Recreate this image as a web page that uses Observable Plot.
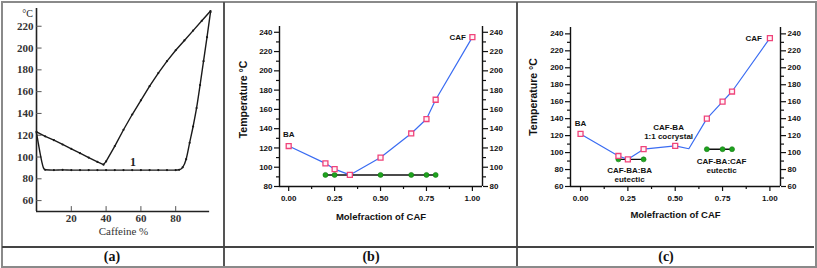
<!DOCTYPE html>
<html>
<head>
<meta charset="utf-8">
<script src="https://cdn.jsdelivr.net/npm/d3@7"></script>
<script src="https://cdn.jsdelivr.net/npm/@observablehq/plot@0.6"></script>
<style>
html,body{margin:0;padding:0;background:#fff;}
#wrap{position:relative;width:817px;height:268px;background:#fff;overflow:hidden;}
.abs{position:absolute;}
.lab{position:absolute;font-family:"Liberation Serif",serif;font-weight:bold;font-size:14px;transform:translate(-50%,-50%);color:#111;}
#pb svg text, #pc svg text {font-weight:700;}
#pa svg g[aria-label="y-axis tick label"] text, #pa svg g[aria-label="x-axis tick label"] text {font-weight:700;}
</style>
</head>
<body>
<div id="wrap">
  <div class="abs" style="left:1px;top:1px;width:812px;height:263px;border:2px solid #8a8a8a;"></div>
  <div class="abs" style="left:223px;top:2px;width:1.5px;height:264px;background:#555;"></div>
  <div class="abs" style="left:516px;top:2px;width:1.5px;height:264px;background:#555;"></div>
  <div class="abs" style="left:2px;top:246px;width:812px;height:1.5px;background:#444;"></div>
  <div id="pa" class="abs" style="left:4px;top:4px;"></div>
  <div id="pb" class="abs" style="left:226px;top:4px;"></div>
  <div id="pc" class="abs" style="left:519px;top:4px;"></div>
  <div class="lab" style="left:112px;top:257px;">(a)</div>
  <div class="lab" style="left:371px;top:257px;">(b)</div>
  <div class="lab" style="left:666px;top:257px;">(c)</div>
</div>
<script>
// ---------- Panel (a): scanned phase diagram ----------
const aLiqX = [0,5,10,15,20,25,30,35,38.5,40,45,50,55,60,65,70,75,80,85,90,95,100];
const aLiqY = [123,119,115.5,111.5,107.5,103.5,99.5,95.5,93,96,110,125,139,152,165,177,188,198,207,216,225,234];
const aSolX = [0,1,2,3,4,5,10,15,20,25,30,35,40,45,50,55,60,65,70,75,80,82,84,86,88,90,92,94,96,98,100];
const aSolY = [122,113,104,96,90,88.3,88,88.2,88,88,88,88,88,88,88,88,88,88,88,88,88,88.3,90.5,98,113,128,145,166,188,210,233];
const aYTicks = [60,80,100,120,140,160,180,200,220];
const aXTicks = [20,40,60,80];

// ---------- Panel (b) ----------
const bX = [0,0.2,0.25,0.333,0.5,0.667,0.75,0.8,1.0];
const bY = [122,104,98,92,110,135,150,170,235];
const bEutX = [0.2,0.25,0.333,0.5,0.667,0.75,0.8];
const bEutY = [92,92,92,92,92,92,92];

// ---------- Panel (c) ----------
const cX = [0,0.2,0.25,0.333,0.5,0.667,0.75,0.8,1.0];
const cY = [122,96,92,104,108,140,160,172,235];
const cLineX = [0,0.2,0.25,0.333,0.5,0.572,0.667,0.75,0.8,1.0];
const cLineY = [122,96,92,104,108,104.5,140,160,172,235];
const cEut1X = [0.2,0.333];
const cEut1Y = [92,92];
const cEut2X = [0.667,0.75,0.8];
const cEut2Y = [104,104,104];

const xMajor = [0,0.25,0.5,0.75,1];
const xMinor = [0.125,0.375,0.625,0.875];

const zip = (xs, ys) => xs.map((x, i) => ({x, y: ys[i]}));

// ---------- draw (a) ----------
{
  const liq = zip(aLiqX, aLiqY), sol = zip(aSolX, aSolY);
  const chart = Plot.plot({
    width: 218, height: 240,
    marginLeft: 32, marginRight: 12, marginTop: 4, marginBottom: 33,
    x: {domain: [0, 100]},
    y: {domain: [50, 236.3]},
    style: {fontFamily: "Liberation Serif", color: "#222", background: "transparent"},
    marks: [
      Plot.ruleX([0], {stroke: "#222", strokeWidth: 1.6}),
      Plot.ruleY([50], {x1: 0, x2: 99.5, stroke: "#222", strokeWidth: 1.6}),
      Plot.ruleY(aYTicks, {x1: 0, x2: 3.2, stroke: "#555", strokeWidth: 1}),
      Plot.ruleX(aXTicks, {y1: 50, y2: 54.5, stroke: "#555", strokeWidth: 1}),
      Plot.axisY({ticks: aYTicks, tickSize: 0, tickPadding: 3, label: null, fontSize: 11, fill: "#333"}),
      Plot.axisX({ticks: aXTicks, tickSize: 0, tickPadding: 3, label: null, fontSize: 11, fill: "#333"}),
      Plot.line(liq, {x: "x", y: "y", stroke: "#1a1a1a", strokeWidth: 1.4}),
      Plot.line(sol, {x: "x", y: "y", stroke: "#1a1a1a", strokeWidth: 1.4, curve: "monotone-x"}),
      Plot.dot(liq, {x: "x", y: "y", r: 1.1, fill: "#1a1a1a"}),
      Plot.dot(sol.filter(d => d.x >= 5), {x: "x", y: "y", r: 1.1, fill: "#1a1a1a"}),
      Plot.text(["1"], {x: 55.5, y: 95, fontSize: 12, fontWeight: "bold", fill: "#222"}),
      Plot.text(["°C"], {frameAnchor: "top-left", textAnchor: "middle", dx: -9, dy: 1, fontSize: 10, fill: "#222"}),
      Plot.text(["Caffeine %"], {frameAnchor: "bottom", textAnchor: "middle", dy: 23, fontSize: 11, fill: "#333"})
    ]
  });
  document.getElementById("pa").append(chart);
}

// ---------- helper for (b) and (c) ----------
function panel(opts) {
  const {xDomain, yDomain, yMajor, yMinor, mL, mR, mT, mB, width, marks, yTitleDx, yTitleDy, xTitleDy} = opts;
  const lab = {fontSize: 8, fill: "#111"};
  return Plot.plot({
    width, height: 240,
    marginLeft: mL, marginRight: mR, marginTop: mT, marginBottom: mB,
    x: {domain: xDomain},
    y: {domain: yDomain},
    style: {fontFamily: "Liberation Sans", fontWeight: "bold", background: "transparent", color: "#111"},
    marks: [
      Plot.ruleX([xDomain[0]], {stroke: "#111", strokeWidth: 1.4}),
      Plot.ruleX([xDomain[1]], {stroke: "#111", strokeWidth: 1.4}),
      Plot.ruleY([yDomain[0]], {stroke: "#111", strokeWidth: 1.4}),
      Plot.axisY({anchor: "left", ticks: yMajor, tickSize: 5, tickPadding: 2, label: null, strokeWidth: 1.2, ...lab}),
      Plot.axisY({anchor: "left", ticks: yMinor, tickSize: 3, tickFormat: () => "", label: null, strokeWidth: 1.2}),
      Plot.axisY({anchor: "right", ticks: yMajor, tickSize: 5, tickPadding: 2, label: null, strokeWidth: 1.2, ...lab}),
      Plot.axisY({anchor: "right", ticks: yMinor, tickSize: 3, tickFormat: () => "", label: null, strokeWidth: 1.2}),
      Plot.axisX({ticks: xMajor, tickSize: 5, tickPadding: 4, tickFormat: d3.format(".2f"), label: null, strokeWidth: 1.2, ...lab}),
      Plot.axisX({ticks: xMinor, tickSize: 3, tickFormat: () => "", label: null, strokeWidth: 1.2}),
      Plot.text(["Temperature °C"], {frameAnchor: "left", textAnchor: "middle", lineAnchor: "middle", dx: yTitleDx, dy: yTitleDy, rotate: -90, fontSize: 10.5, fill: "#111"}),
      Plot.text(["Molefraction of CAF"], {frameAnchor: "bottom", textAnchor: "middle", lineAnchor: "middle", dy: xTitleDy, fontSize: 9.5, fill: "#111"}),
      ...marks
    ]
  });
}

const blue = "#3a6cf2", pink = "#f0437a", green = "#1ea31e";
const sq = {symbol: "square", r: 2.8, stroke: pink, strokeWidth: 1.3, fill: "#fff4f7"};
const gr = {r: 2.5, fill: green, stroke: "#137a13", strokeWidth: 0.6};
const ann = {fontSize: 8, fill: "#111"};

// ---------- draw (b) ----------
{
  const pts = zip(bX, bY), eut = zip(bEutX, bEutY);
  const chart = panel({
    width: 289, mL: 53, mR: 33, mT: 22, mB: 58,
    xDomain: [-0.05, 1.055], yDomain: [80, 246],
    yMajor: d3.range(80, 241, 20), yMinor: d3.range(90, 241, 20),
    yTitleDx: -36, yTitleDy: -7, xTitleDy: 30,
    marks: [
      Plot.line(eut, {x: "x", y: "y", stroke: "#111", strokeWidth: 1.4}),
      Plot.dot(eut, {x: "x", y: "y", ...gr}),
      Plot.line(pts, {x: "x", y: "y", stroke: blue, strokeWidth: 1.2}),
      Plot.dot(pts, {x: "x", y: "y", ...sq}),
      Plot.text(["BA"], {x: 0, y: 134, ...ann}),
      Plot.text(["CAF"], {x: 0.92, y: 235, ...ann})
    ]
  });
  document.getElementById("pb").append(chart);
}

// ---------- draw (c) ----------
{
  const pts = zip(cX, cY), ln = zip(cLineX, cLineY), e1 = zip(cEut1X, cEut1Y), e2 = zip(cEut2X, cEut2Y);
  const chart = panel({
    width: 292, mL: 51, mR: 31, mT: 23, mB: 58,
    xDomain: [-0.053, 1.056], yDomain: [60, 247.5],
    yMajor: d3.range(60, 241, 20), yMinor: d3.range(70, 241, 20),
    yTitleDx: -37, yTitleDy: -10, xTitleDy: 28.5,
    marks: [
      Plot.line(e1, {x: "x", y: "y", stroke: "#111", strokeWidth: 1.4}),
      Plot.dot(e1, {x: "x", y: "y", ...gr}),
      Plot.line(e2, {x: "x", y: "y", stroke: "#111", strokeWidth: 1.4}),
      Plot.dot(e2, {x: "x", y: "y", ...gr}),
      Plot.line(ln, {x: "x", y: "y", stroke: blue, strokeWidth: 1.2}),
      Plot.dot(pts, {x: "x", y: "y", ...sq}),
      Plot.text(["BA"], {x: 0, y: 134, ...ann}),
      Plot.text(["CAF"], {x: 0.914, y: 235, ...ann}),
      Plot.text(["CAF-BA\n1:1 cocrystal"], {x: 0.465, y: 125.2, lineHeight: 1.15, ...ann}),
      Plot.text(["CAF-BA:BA\neutectic"], {x: 0.259, y: 74, lineHeight: 1.15, ...ann}),
      Plot.text(["CAF-BA:CAF\neutectic"], {x: 0.745, y: 84.9, lineHeight: 1.15, ...ann})
    ]
  });
  document.getElementById("pc").append(chart);
}
</script>
</body>
</html>
